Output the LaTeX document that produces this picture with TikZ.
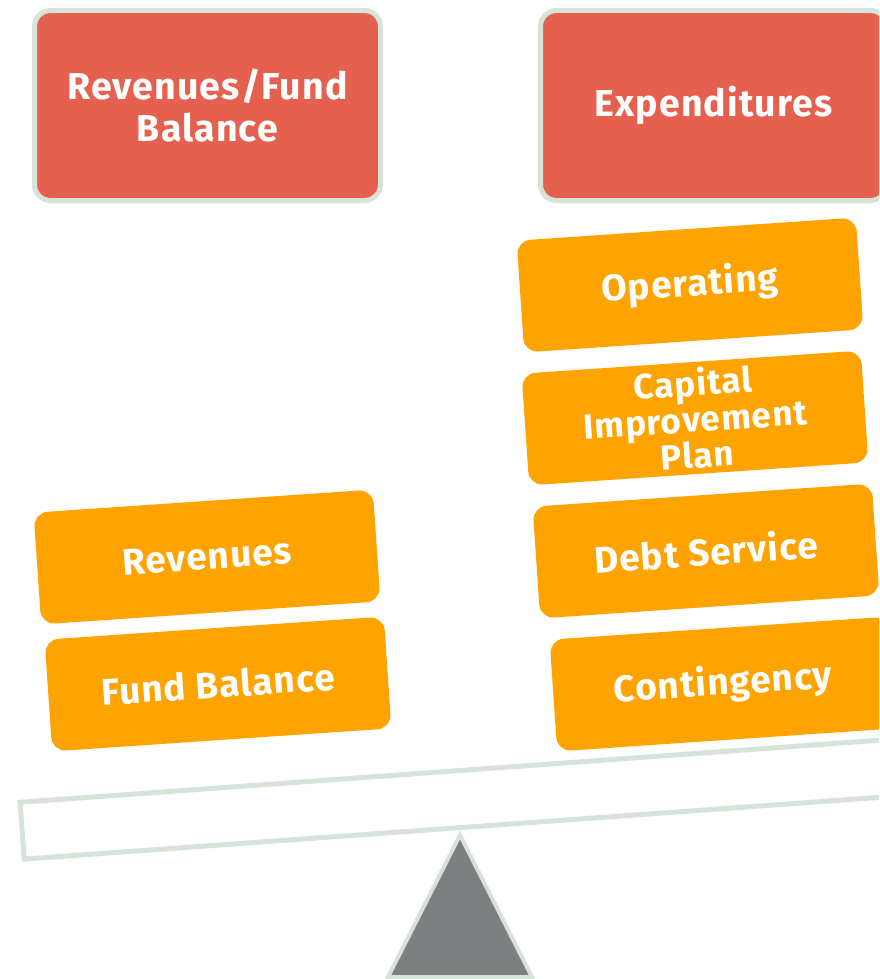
\documentclass[tikz,border=0pt]{standalone}
\usepackage{fontspec}
\setmainfont{Fira Sans}[LetterSpace=3]
\definecolor{redbox}{HTML}{E5604E}
\definecolor{orangebox}{HTML}{FFA300}
\definecolor{edge}{HTML}{D5E3D8}
\definecolor{fulcrum}{HTML}{7E7F81}
\begin{document}
\begin{tikzpicture}[x=1pt,y=-1pt,
 hdr/.style={draw=edge, line width=5pt, fill=redbox, rounded corners=16pt, minimum width=346pt, minimum height=190pt, text=white, font=\fontsize{37.5}{42}\selectfont\bfseries, align=center, inner sep=0pt},
 item/.style={fill=orangebox, rounded corners=14pt, minimum width=340pt, minimum height=112pt, text=white, font=\fontsize{37}{35}\selectfont\bfseries, align=center, inner sep=0pt, rotate=3.9},
 beam/.style={draw=edge, line width=5pt, fill=white, minimum width=880pt, minimum height=57pt, rotate=4.13, inner sep=0pt},
 fulcrumstyle/.style={draw=edge, line width=4pt, fill=fulcrum, line join=miter}]
\useasboundingbox (0,0) rectangle (879,979);
\clip (0,0) rectangle (879,979);
\node[hdr] (rfb) at (207.5,105.5) {Revenues/Fund\\Balance};
\node[hdr] (exp) at (713.5,105.5) {Expenditures};
\node[beam] (beam) at (461,799) {};
\coordinate (apex) at (460,835);
\coordinate (bl) at (388,977);
\coordinate (br) at (532,977);
\draw[fulcrumstyle] (apex) -- (br) -- (bl) -- cycle;
\node[item] (rev) at (207,557) {Revenues};
\node[item] (fb) at (218,684) {Fund Balance};
\node[item] (op) at (690,285) {Operating};
\node[item, font=\fontsize{35}{36}\selectfont\bfseries] (cip) at (695,418) {Capital\\Improvement\\Plan};
\node[item] (ds) at (706,551) {Debt Service};
\node[item] (cont) at (723,684) {Contingency};
\end{tikzpicture}
\end{document}
